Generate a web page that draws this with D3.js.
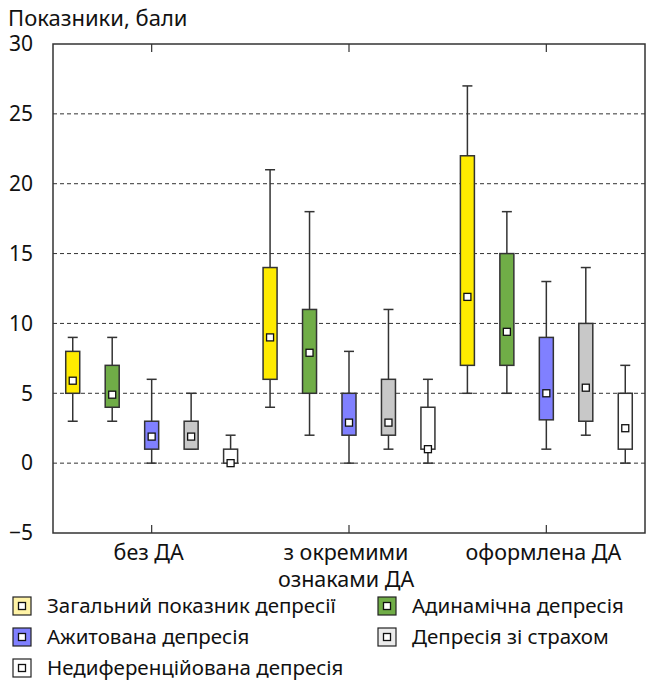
<!DOCTYPE html>
<html><head><meta charset="utf-8">
<script src="https://cdn.jsdelivr.net/npm/d3@7/dist/d3.min.js"></script>
<style>body{margin:0;background:#fff}svg text{font-family:"Noto Sans","Open Sans",sans-serif;fill:#111}</style>
</head><body><svg id="c" width="646" height="684"></svg>
<script>
const categories = ["без ДА", "з окремими\nознаками ДА", "оформлена ДА"];
const seriesNames = ["Загальний показник депресії", "Адинамічна депресія", "Ажитована депресія", "Депресія зі страхом", "Недиференційована депресія"];
const seriesColors = ["#FFEB00", "#70AD47", "#8080FF", "#C8C8C8", "#FFFFFF"];
const legendColors = ["#FFF3A6", "#70AD47", "#8080FF", "#EBEBEB", "#FFFFFF"];
// [min, q1, median marker, q3, max] per category
const seriesTotal = [[3,5,5.9,8,9],[4,6,9,14,21],[5,7,11.9,22,27]];
const seriesAdynamic = [[3,4,4.9,7,9],[2,5,7.9,11,18],[5,7,9.4,15,18]];
const seriesAgitated = [[0,1,1.9,3,6],[0,2,2.9,5,8],[1,3.1,5,9,13]];
const seriesFear = [[1,1,1.9,3,5],[1,2,2.9,6,11],[2,3,5.4,10,14]];
const seriesUndiff = [[0,0,0,1,2],[0,1,1,4,6],[0,1,2.5,5,7]];
const seriesData = [seriesTotal, seriesAdynamic, seriesAgitated, seriesFear, seriesUndiff];
const yTicks = [-5,0,5,10,15,20,25,30];
const gridTicks = [0,5,10,15,20,25];

const svg = d3.select("#c");
const L=53, R=645, T=44, B=533;
const x = d3.scaleBand().domain(d3.range(categories.length)).range([L,R]).padding(0);
const xs = d3.scaleBand().domain(d3.range(seriesNames.length)).range([0,x.bandwidth()]).padding(0);
const y = d3.scaleLinear().domain([-5,30]).range([B,T]);

// grid
svg.append("g").selectAll("line").data(gridTicks).join("line")
  .attr("x1",L).attr("x2",R).attr("y1",d=>y(d)).attr("y2",d=>y(d))
  .attr("stroke","#333").attr("stroke-width",1).attr("stroke-dasharray","4,3");

// frame
svg.append("rect").attr("x",L).attr("y",T).attr("width",R-L).attr("height",B-T)
  .attr("fill","none").attr("stroke","#333").attr("stroke-width",1.5);

// y axis labels
const yAxis = d3.axisLeft(y).tickValues(yTicks).tickSize(0).tickPadding(20).tickFormat(d=>d<0?"\u2212"+Math.abs(d):d);
const ya = svg.append("g").attr("transform",`translate(${L},0)`).call(yAxis);
ya.select(".domain").remove();
ya.selectAll("text").attr("font-size",21).attr("fill","#111").style("font-family",'"Noto Sans",sans-serif');

// x ticks top and bottom
const cx = i => x(i)+x.bandwidth()/2;
svg.append("g").selectAll("line").data(d3.range(categories.length)).join("line")
  .attr("x1",cx).attr("x2",cx).attr("y1",B).attr("y2",B-8).attr("stroke","#333").attr("stroke-width",1.2);
svg.append("g").selectAll("line").data(d3.range(categories.length)).join("line")
  .attr("x1",cx).attr("x2",cx).attr("y1",T).attr("y2",T+8).attr("stroke","#333").attr("stroke-width",1.2);

// x labels
const xl = svg.append("g").selectAll("text").data(categories).join("text")
  .attr("x",(d,i)=>cx(i)-3).attr("y",560).attr("text-anchor","middle").attr("font-size",21.5);
xl.each(function(d){
  const lines=d.split("\n");
  d3.select(this).selectAll("tspan").data(lines).join("tspan")
    .attr("x",d3.select(this).attr("x")).attr("dy",(l,j)=>j?27:0).text(l=>l);
});

// boxes
const bw = 14, cap = 10, mk = 7;
seriesData.forEach((ser,s)=>{
  const g = svg.append("g");
  ser.forEach((v,i)=>{
    const c = x(i)+xs(s)+xs.bandwidth()/2;
    const [mn,q1,md,q3,mx]=v;
    g.append("line").attr("x1",c).attr("x2",c).attr("y1",y(mx)).attr("y2",y(mn)).attr("stroke","#333").attr("stroke-width",1.5);
    g.append("line").attr("x1",c-cap/2).attr("x2",c+cap/2).attr("y1",y(mx)).attr("y2",y(mx)).attr("stroke","#333").attr("stroke-width",1.5);
    g.append("line").attr("x1",c-cap/2).attr("x2",c+cap/2).attr("y1",y(mn)).attr("y2",y(mn)).attr("stroke","#333").attr("stroke-width",1.5);
    g.append("rect").attr("x",c-bw/2).attr("y",y(q3)).attr("width",bw).attr("height",Math.max(0,y(q1)-y(q3)))
      .attr("fill",seriesColors[s]).attr("stroke","#333").attr("stroke-width",1.5);
    g.append("rect").attr("x",c-mk/2).attr("y",y(md)-mk/2).attr("width",mk).attr("height",mk)
      .attr("fill","#fff").attr("stroke","#111").attr("stroke-width",1.3);
  });
});

// title
svg.append("text").attr("x",8).attr("y",26).attr("font-size",22).text("Показники, бали");

// legend
const legPos = [[12,606],[377,606],[12,637],[377,637],[12,668]];
seriesNames.forEach((n,s)=>{
  const [lx,ly]=legPos[s];
  const g=svg.append("g");
  g.append("rect").attr("x",lx+1).attr("y",ly-9).attr("width",18).attr("height",18)
    .attr("fill",legendColors[s]).attr("stroke","#222").attr("stroke-width",1.2);
  g.append("rect").attr("x",lx+6.5).attr("y",ly-3.5).attr("width",7).attr("height",7)
    .attr("fill","#fff").attr("stroke","#111").attr("stroke-width",1.3);
  g.append("text").attr("x",lx+35).attr("y",ly+7).attr("font-size",20.5).text(n);
});
</script></body></html>
